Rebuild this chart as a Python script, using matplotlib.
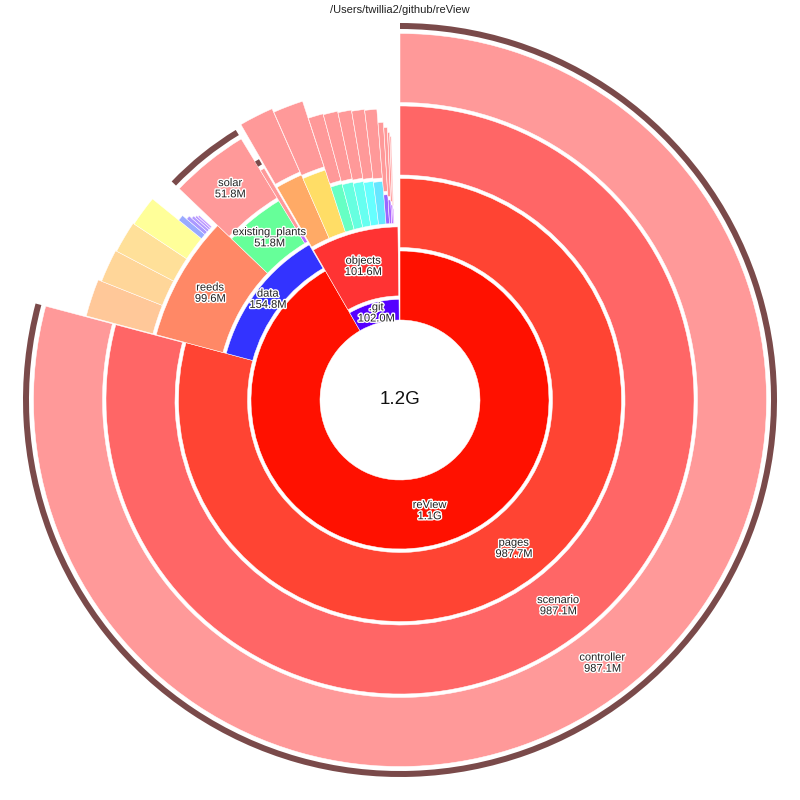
import numpy as np
import matplotlib.pyplot as plt
import matplotlib.patheffects as pe

plt.rcParams['font.family'] = ['Liberation Sans', 'DejaVu Sans']

title = "/Users/twillia2/github/reView"
root_size = 1247.6  # MB

# directory tree, children listed largest first (clockwise from 12 o'clock)
node_names = [
    "reView", ".git",
    "pages", "data", "objects",
    "scenario",
    "reeds", "existing_plants", "other",
    "5e", "a3", "c1", "0b", "e8", "7d", "f2", "94", "3c", "d6", "18",
    "controller", "solar", "other_sub",
    "r1", "r2", "r3", "r4", "r5", "r6", "r7", "r8", "r9",
    "5e/f", "a3/f", "c1/f", "0b/f", "e8/f", "7d/f", "f2/f", "94/f", "3c/f", "d6/f", "18/f",
]
node_parents = [
    "/", "/",
    "reView", "reView", ".git",
    "pages",
    "data", "data", "data",
    "objects", "objects", "objects", "objects", "objects", "objects",
    "objects", "objects", "objects", "objects", "objects",
    "scenario", "existing_plants", "other",
    "reeds", "reeds", "reeds", "reeds", "reeds", "reeds", "reeds", "reeds", "reeds",
    "5e", "a3", "c1", "0b", "e8", "7d", "f2", "94", "3c", "d6", "18",
]
node_sizes = [
    1143.6, 102.0,
    987.7, 154.8, 101.6,
    987.1,
    99.6, 51.8, 3.4,
    22.0, 19.6, 10.3, 9.9, 9.3, 8.8, 8.4, 3.9, 2.6, 1.6, 1.0,
    987.1, 51.8, 3.3,
    23.2, 20.8, 20.1, 19.4, 4.2, 2.8, 2.1, 1.7, 1.4,
    21.8, 19.4, 10.2, 9.8, 9.2, 8.7, 8.3, 3.8, 2.5, 1.5, 0.9,
]
node_colors = [
    "#ff1100", "#5500ff",
    "#ff4433", "#3333ff", "#ff3333",
    "#ff6666",
    "#ff8866", "#66ff99", "#bb66ff",
    "#ffaa66", "#ffdd66", "#66ffc4", "#66ffe0", "#66fff0", "#66ffff", "#66e6ff",
    "#9966ff", "#aa66ff", "#bb66ff", "#cc66ff",
    "#ff9999", "#ff9999", "#ff9999",
    "#ffc899", "#ffd699", "#ffe099", "#ffff99", "#99aaff", "#aa99ff", "#b399ff",
    "#bb99ff", "#c499ff",
] + ["#ff9999"] * 11
truncated = ["controller", "solar", "other_sub"]

HOLE = 80
RING = 69
GAP = 3.5


def fmt(mb):
    return f"{mb / 1024:.1f}G" if mb >= 1024 else f"{mb:.1f}M"


size = dict(zip(node_names, node_sizes))
color = dict(zip(node_names, node_colors))
children = {}
for n, p in zip(node_names, node_parents):
    children.setdefault(p, []).append(n)

layout = {}


def place(parent, start, r0):
    kids = children.get(parent, [])
    if not kids:
        return
    biggest = max(size[k] for k in kids)
    a = start
    for k in kids:
        span = size[k] / root_size * 2 * np.pi
        h = RING * np.sqrt(size[k] / biggest)
        layout[k] = (a, span, r0, h)
        place(k, a, r0 + h + GAP)
        a += span


place("/", 0.0, HOLE)

fig = plt.figure(figsize=(8, 8), dpi=100)
ax = fig.add_axes([0, 0, 1, 1], projection='polar')
ax.set_theta_offset(np.pi / 2)
ax.set_theta_direction(-1)
ax.set_ylim(0, 400)
ax.set_axis_off()

for n in node_names:
    a, span, r0, h = layout[n]
    ax.bar(a, h, width=span, bottom=r0, align='edge', color=color[n],
           edgecolor='white', linewidth=0.35)
    if n in truncated:
        ax.bar(a, 6, width=span, bottom=r0 + h + 4.5, align='edge',
               color='#7a4a4a', linewidth=0)
    if span >= np.deg2rad(10):
        ax.text(a + span / 2, r0 + h / 2, f"{n}\n{fmt(size[n])}",
                ha='center', va='center', fontsize=8, color='#222222',
                linespacing=1.15,
                path_effects=[pe.withStroke(linewidth=2, foreground='white')])

ax.text(0, 0, fmt(root_size), ha='center', va='center', fontsize=13.5, color='#111111')
fig.text(0.5, 0.9875, title, ha='center', va='center', fontsize=8, color='#222222')

fig.savefig("out.png", dpi=100)
